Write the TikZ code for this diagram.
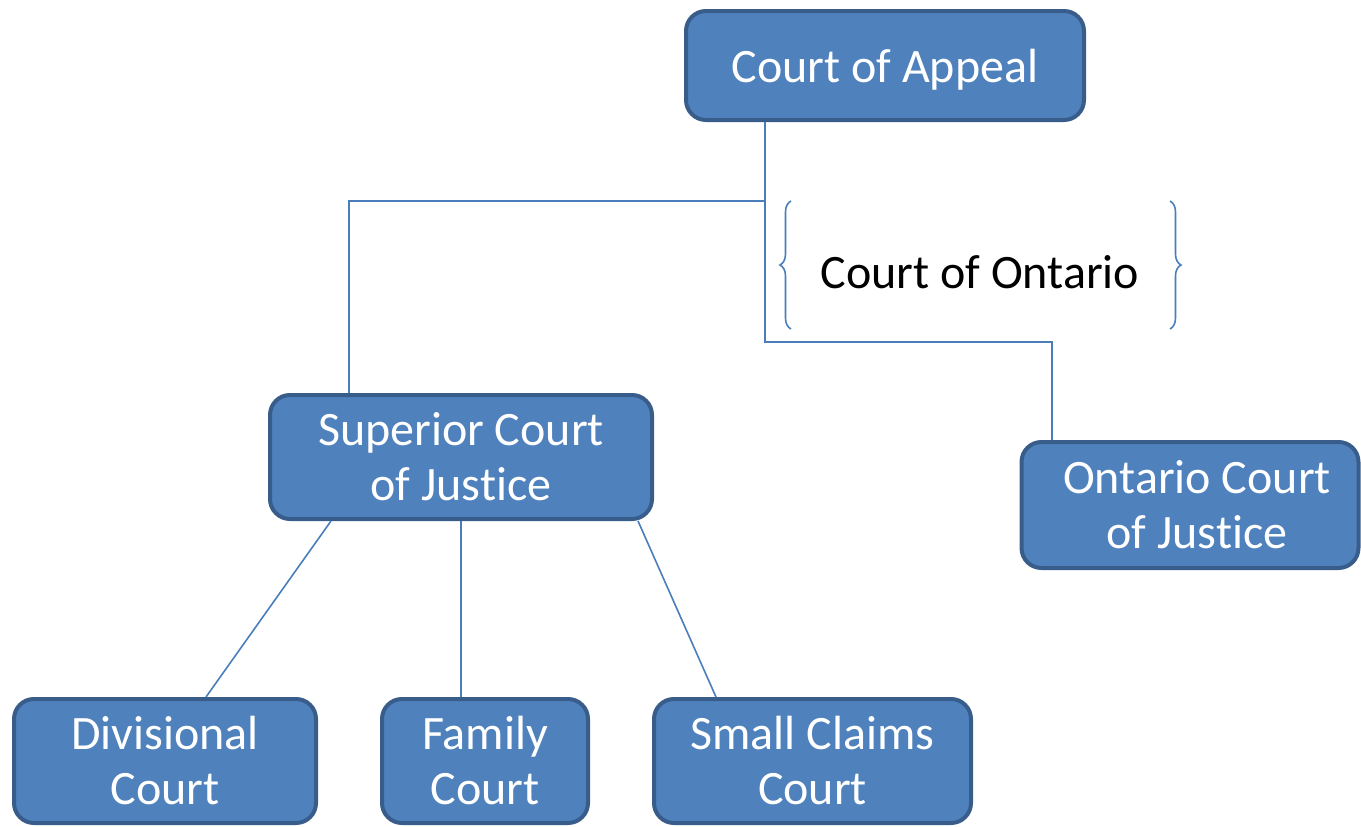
\documentclass[tikz,border=0pt]{standalone}
\usepackage{fontspec}
\setmainfont[Ligatures=NoCommon]{Carlito}
\usetikzlibrary{calc,decorations.pathreplacing}
\definecolor{boxfill}{HTML}{4F81BD}
\definecolor{boxdraw}{HTML}{385D8A}
\definecolor{linecol}{HTML}{4A7EBB}
\tikzset{
  court/.style={draw=boxdraw, fill=boxfill, line width=4pt, rounded corners=20pt,
    text=white, align=center, font=\fontsize{48}{55}\selectfont, inner sep=0pt},
  conn/.style={draw=linecol, line width=1.6pt},
  bracestyle/.style={draw=linecol, line width=1.6pt, decorate,
    decoration={brace, amplitude=11pt}},
}
\begin{document}
\begin{tikzpicture}[x=1pt,y=-1pt]
\useasboundingbox (0,0) rectangle (1361,827);
\node[court, minimum width=398pt, minimum height=109pt] (app) at (885,65.5) {\raisebox{-4pt}[\height][\depth]{Court of Appeal}};
\node[court, minimum width=382pt, minimum height=124pt] (sup) at (461,457) {Superior Court\\of Justice};
\node[court, minimum width=337pt, minimum height=126pt] (ont) at (1190,505) {\hspace*{14pt}Ontario Court\\\hspace*{14pt}of Justice};
\node[court, minimum width=302pt, minimum height=124pt] (div) at (165,761) {Divisional\\Court};
\node[court, minimum width=206pt, minimum height=124pt] (fam) at (485,761) {Family\\Court};
\node[court, minimum width=317pt, minimum height=124pt] (sc) at (812.5,761) {Small Claims\\Court};
\node[font=\fontsize{48}{55}\selectfont, inner sep=0pt] (cot) at (980,272) {Court of Ontario};
\coordinate (j1) at (765,201);
\coordinate (j2) at (765,342);
\draw[conn] ($(app.south)+(-120,0)$) -- (j2) -| ($(ont.north)+(-138,0)$);
\draw[conn] (j1) -| ($(sup.north)+(-112,0)$);
\draw[conn] ($(sup.south)+(-130,0)$) -- ($(div.north)+(41,0)$);
\draw[conn] (sup.south) -- (sup.south |- fam.north);
\draw[conn] ($(sup.south)+(177,0)$) -- ($(sc.north)+(-96.5,0)$);
\draw[bracestyle] (791,329) -- (791,201);
\draw[bracestyle] (1170,201) -- (1170,329);
\end{tikzpicture}
\end{document}
